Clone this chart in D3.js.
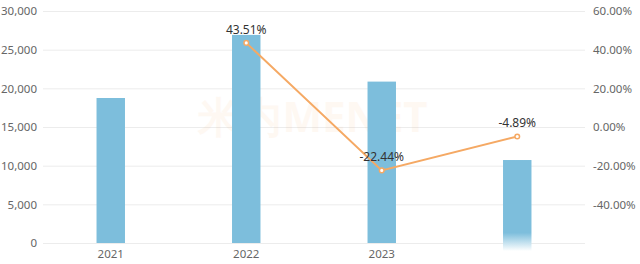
<!DOCTYPE html>
<html lang="zh">
<head>
<meta charset="utf-8">
<title>chart</title>
<script src="https://d3js.org/d3.v7.min.js"></script>
<style>
  body { margin: 0; background: #fff; }
  svg text { font-family: "Noto Sans", "Open Sans", sans-serif; }
  .grid line { stroke: #ececec; }
  .grid .domain { display: none; }
</style>
</head>
<body>
<div id="chart"></div>
<script>
  var years = ["2021", "2022", "2023", "2024"];
  var yearLabels = ["2021", "2022", "2023", ""];
  var sales = [18750, 26910, 20870, 10730];
  var growth = [null, 43.51, -22.44, -4.89];
  var leftTicks = [0, 5000, 10000, 15000, 20000, 25000, 30000];
  var rightTicks = [-40, -20, 0, 20, 40, 60];

  var width = 640, height = 264;
  var m = {top: 11, right: 55, bottom: 21, left: 43};

  var svg = d3.select("#chart").append("svg")
      .attr("width", width)
      .attr("height", height);

  var x = d3.scaleBand()
      .domain(years)
      .range([m.left, width - m.right])
      .paddingInner(0.79)
      .paddingOuter(0.395);

  var band = d3.scaleBand().domain(years).range([m.left, width - m.right]);

  var y = d3.scaleLinear().domain([0, 30000]).range([height - m.bottom, m.top]);
  var y2 = d3.scaleLinear().domain([-60, 60]).range([height - m.bottom, m.top]);

  // gradient for the last bar (fades out at the bottom)
  var defs = svg.append("defs");
  var grad = defs.append("linearGradient")
      .attr("id", "fade")
      .attr("x1", 0).attr("y1", 0).attr("x2", 0).attr("y2", 1);
  grad.append("stop").attr("offset", "0.8").attr("stop-color", "#7dbedc");
  grad.append("stop").attr("offset", "1").attr("stop-color", "#ffffff");

  // gridlines
  svg.append("g")
      .attr("class", "grid")
      .attr("transform", "translate(" + m.left + ",0)")
      .call(d3.axisLeft(y).tickValues(leftTicks).tickSize(-(width - m.left - m.right)).tickFormat(""));

  // watermark
  svg.append("text")
      .attr("x", 313).attr("y", 132)
      .attr("text-anchor", "middle")
      .attr("font-size", 42)
      .attr("font-weight", "bold")
      .attr("fill", "#f7a35c")
      .attr("opacity", 0.07)
      .text("米内MENET");

  // bars
  svg.append("g")
    .selectAll("rect")
    .data(sales)
    .enter().append("rect")
      .attr("x", function(d, i) { return x(years[i]); })
      .attr("width", x.bandwidth())
      .attr("y", function(d) { return y(d); })
      .attr("height", function(d, i) { return y(0) - y(d) + (i === 3 ? 8 : 0); })
      .attr("fill", function(d, i) { return i === 3 ? "url(#fade)" : "#7dbedc"; });

  // left axis
  var la = svg.append("g")
      .attr("transform", "translate(" + m.left + ",0)")
      .call(d3.axisLeft(y).tickValues(leftTicks).tickSize(0).tickPadding(6).tickFormat(d3.format(",")));
  la.select(".domain").remove();
  la.selectAll("text").attr("fill", "#666").attr("font-size", 11.5);

  // right axis
  var ra = svg.append("g")
      .attr("transform", "translate(" + (width - m.right) + ",0)")
      .call(d3.axisRight(y2).tickValues(rightTicks).tickSize(0).tickPadding(8)
        .tickFormat(function(d) { return d.toFixed(2) + "%"; }));
  ra.select(".domain").remove();
  ra.selectAll("text").attr("fill", "#666").attr("font-size", 11.5);

  // bottom axis
  var ba = svg.append("g")
      .attr("transform", "translate(0," + (height - m.bottom) + ")")
      .call(d3.axisBottom(band).tickSize(0).tickPadding(7)
        .tickFormat(function(d, i) { return yearLabels[i]; }));
  ba.select(".domain").remove();
  ba.selectAll("text").attr("fill", "#666").attr("font-size", 11.5);

  // growth line
  var pts = growth.map(function(g, i) { return {year: years[i], g: g}; })
      .filter(function(d) { return d.g !== null; });

  var line = d3.line()
      .x(function(d) { return band(d.year) + band.bandwidth() / 2; })
      .y(function(d) { return y2(d.g); });

  svg.append("path")
      .datum(pts)
      .attr("d", line)
      .attr("fill", "none")
      .attr("stroke", "#f5a964")
      .attr("stroke-width", 2);

  svg.append("g")
    .selectAll("circle")
    .data(pts)
    .enter().append("circle")
      .attr("cx", function(d) { return band(d.year) + band.bandwidth() / 2; })
      .attr("cy", function(d) { return y2(d.g); })
      .attr("r", 2.3)
      .attr("fill", "#fff")
      .attr("stroke", "#f5a964")
      .attr("stroke-width", 1.5);

  svg.append("g")
    .selectAll("text")
    .data(pts)
    .enter().append("text")
      .attr("x", function(d) { return band(d.year) + band.bandwidth() / 2; })
      .attr("y", function(d) { return y2(d.g) - 9; })
      .attr("text-anchor", "middle")
      .attr("font-size", 12)
      .attr("fill", "#333")
      .text(function(d) { return d.g.toFixed(2) + "%"; });
</script>
</body>
</html>
